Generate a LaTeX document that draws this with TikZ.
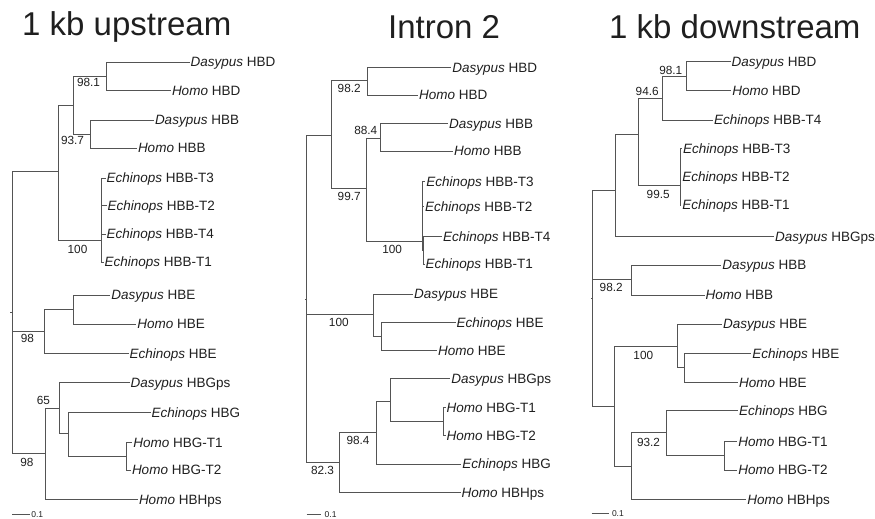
\documentclass[tikz,border=0pt]{standalone}
\usepackage{fontspec}
\setmainfont{Liberation Sans}
\definecolor{linegray}{gray}{0.33}
\definecolor{txt}{gray}{0.12}
\tikzset{
  br/.style={draw=linegray, line width=0.85pt},
  leaf/.style={anchor=west, inner xsep=1pt, inner ysep=0pt, outer sep=0pt,
    text height=9.6pt, text depth=0pt, font=\fontsize{13.5}{16}\selectfont, text=txt},
  boot/.style={inner sep=0pt, text height=8.4pt, text depth=0pt,
    font=\fontsize{11.8}{13}\selectfont, text=txt},
  ttl/.style={anchor=base west, inner sep=0pt, font=\fontsize{33}{36}\selectfont, text=txt},
  sbar/.style={anchor=west, inner sep=0pt, text height=6pt, text depth=0pt,
    font=\fontsize{8.5}{10}\selectfont, text=txt},
}
\newcommand{\tleaf}[5]{\node[leaf] (#1) at (#2,#3) {\textit{#4} #5};}
\newcommand{\kids}[2]{\foreach \c in {#2} {\draw[br] (#1) |- (\c);}}
\begin{document}
\begin{tikzpicture}[x=1pt,y=-1pt]
\useasboundingbox (0,0) rectangle (875,519);

% titles
\node[ttl] (title1) at (22,36) {1 kb upstream};
\node[ttl] (title2) at (388,39) {Intron 2};
\node[ttl] (title3) at (609,39) {1 kb downstream};

% ---------------- tree 1 ----------------
\tleaf{a1}{189.7}{62}{Dasypus}{HBD}
\tleaf{a2}{171}{90.7}{Homo}{HBD}
\tleaf{a3}{154}{120}{Dasypus}{HBB}
\tleaf{a4}{137}{148}{Homo}{HBB}
\tleaf{a5}{105.5}{178}{Echinops}{HBB-T3}
\tleaf{a6}{106.5}{205.7}{Echinops}{HBB-T2}
\tleaf{a7}{105.5}{234}{Echinops}{HBB-T4}
\tleaf{a8}{103.5}{262}{Echinops}{HBB-T1}
\tleaf{a9}{110.3}{295}{Dasypus}{HBE}
\tleaf{a10}{136.3}{324}{Homo}{HBE}
\tleaf{a11}{128.7}{353.3}{Echinops}{HBE}
\tleaf{a12}{129.7}{382.3}{Dasypus}{HBGps}
\tleaf{a13}{150.7}{412.3}{Echinops}{HBG}
\tleaf{a14}{132.3}{442.3}{Homo}{HBG-T1}
\tleaf{a15}{131}{470}{Homo}{HBG-T2}
\tleaf{a16}{138}{499.3}{Homo}{HBHps}

\coordinate (R1) at (12,312.5);
\coordinate (R1t) at (10.3,312.5);
\coordinate (A1) at (58,171.7);
\coordinate (B1) at (73,105.4);
\coordinate (D1) at (106,76.7);
\coordinate (H1) at (90.7,134);
\coordinate (K1) at (101,240.7);
\coordinate (K1b) at (101.8,192);
\coordinate (E1) at (44.3,331);
\coordinate (F1) at (73.3,309.3);
\coordinate (G1) at (45.7,453.3);
\coordinate (J1) at (59,408);
\coordinate (L1) at (68.3,433.3);
\coordinate (M1) at (126.7,456);

\kids{R1}{A1,E1,G1}
\kids{A1}{B1,K1}
\kids{B1}{D1,H1}
\kids{D1}{a1,a2}
\kids{H1}{a3,a4}
\kids{K1}{K1b,a7,a8}
\kids{K1b}{a5,a6}
\kids{E1}{F1,a11}
\kids{F1}{a9,a10}
\kids{G1}{J1,a16}
\kids{J1}{a12,L1}
\kids{L1}{a13,M1}
\kids{M1}{a14,a15}
\draw[br] (R1t) -- (R1);

\node[boot] (s11) at (88.5,82) {98.1};
\node[boot] (s12) at (72.5,140) {93.7};
\node[boot] (s13) at (77.5,249) {100};
\node[boot] (s14) at (27.5,338) {98};
\node[boot] (s15) at (43.5,400.5) {65};
\node[boot] (s16) at (27,462.3) {98};

\coordinate (sb1a) at (12.3,514);
\coordinate (sb1b) at (30,514);
\draw[br] (sb1a) -- (sb1b);
\node[sbar] (sb1) at (31.2,514) {0.1};

% ---------------- tree 2 ----------------
\tleaf{b1}{451.3}{67.3}{Dasypus}{HBD}
\tleaf{b2}{418}{95}{Homo}{HBD}
\tleaf{b3}{448}{123.3}{Dasypus}{HBB}
\tleaf{b4}{453}{151}{Homo}{HBB}
\tleaf{b5}{425.3}{181.7}{Echinops}{HBB-T3}
\tleaf{b6}{424}{206.7}{Echinops}{HBB-T2}
\tleaf{b7}{442}{236.7}{Echinops}{HBB-T4}
\tleaf{b8}{424.7}{264}{Echinops}{HBB-T1}
\tleaf{b9}{413}{294}{Dasypus}{HBE}
\tleaf{b10}{455.7}{322.3}{Echinops}{HBE}
\tleaf{b11}{437}{350.7}{Homo}{HBE}
\tleaf{b12}{450.3}{378.3}{Dasypus}{HBGps}
\tleaf{b13}{445.7}{407.3}{Homo}{HBG-T1}
\tleaf{b14}{445.7}{435.7}{Homo}{HBG-T2}
\tleaf{b15}{461.3}{464}{Echinops}{HBG}
\tleaf{b16}{460.7}{492.7}{Homo}{HBHps}

\coordinate (R2) at (306.7,299);
\coordinate (R2t) at (305,299);
\coordinate (A2) at (331.7,135);
\coordinate (D2) at (367.3,80);
\coordinate (B2) at (366,188.3);
\coordinate (H2) at (380.7,138.3);
\coordinate (K2) at (422.3,241);
\coordinate (K2b) at (423,250);
\coordinate (E2) at (373.3,314.3);
\coordinate (F2) at (381.7,336.7);
\coordinate (G2) at (339.3,462.7);
\coordinate (I2) at (376,432.7);
\coordinate (J2) at (390.7,401.7);
\coordinate (M2) at (443.3,421.7);

\kids{R2}{A2,E2,G2}
\kids{A2}{D2,B2}
\kids{D2}{b1,b2}
\kids{B2}{H2,K2}
\kids{H2}{b3,b4}
\kids{K2}{b5,b6,K2b}
\kids{K2b}{b7,b8}
\kids{E2}{b9,F2}
\kids{F2}{b10,b11}
\kids{G2}{I2,b16}
\kids{I2}{J2,b15}
\kids{J2}{b12,M2}
\kids{M2}{b13,b14}
\draw[br] (R2t) -- (R2);

\node[boot] (s21) at (349.2,88.3) {98.2};
\node[boot] (s22) at (365.8,130.7) {88.4};
\node[boot] (s23) at (349.2,196.7) {99.7};
\node[boot] (s24) at (392.2,249) {100};
\node[boot] (s25) at (338.8,322.3) {100};
\node[boot] (s26) at (358,440.7) {98.4};
\node[boot] (s27) at (322.5,470) {82.3};

\coordinate (sb2a) at (306.7,514);
\coordinate (sb2b) at (321,514);
\draw[br] (sb2a) -- (sb2b);
\node[sbar] (sb2) at (324.5,514) {0.1};

% ---------------- tree 3 ----------------
\tleaf{c1}{730.7}{61.7}{Dasypus}{HBD}
\tleaf{c2}{731.3}{90.7}{Homo}{HBD}
\tleaf{c3}{713}{120}{Echinops}{HBB-T4}
\tleaf{c4}{682}{148.3}{Echinops}{HBB-T3}
\tleaf{c5}{681.3}{176.7}{Echinops}{HBB-T2}
\tleaf{c6}{681.3}{205}{Echinops}{HBB-T1}
\tleaf{c7}{774}{236.7}{Dasypus}{HBGps}
\tleaf{c8}{721.3}{265}{Dasypus}{HBB}
\tleaf{c9}{704.7}{295}{Homo}{HBB}
\tleaf{c10}{722}{324}{Dasypus}{HBE}
\tleaf{c11}{751.3}{353.3}{Echinops}{HBE}
\tleaf{c12}{738}{382.3}{Homo}{HBE}
\tleaf{c13}{738}{410.7}{Echinops}{HBG}
\tleaf{c14}{737.3}{441.7}{Homo}{HBG-T1}
\tleaf{c15}{737.3}{470}{Homo}{HBG-T2}
\tleaf{c16}{746.3}{499.3}{Homo}{HBHps}

\coordinate (R3) at (592.7,298);
\coordinate (R3t) at (591,298);
\coordinate (A3) at (615,190);
\coordinate (C3) at (638.3,134.3);
\coordinate (D3) at (662.7,98.3);
\coordinate (F3) at (686,76);
\coordinate (K3) at (680,185.7);
\coordinate (B3) at (631.7,279.3);
\coordinate (E3) at (614.3,406);
\coordinate (G3) at (677.3,346);
\coordinate (J3) at (684.3,367.7);
\coordinate (I3) at (631,466.7);
\coordinate (L3) at (666,432.7);
\coordinate (M3) at (724.3,455.7);

\kids{R3}{A3,B3,E3}
\kids{A3}{C3,c7}
\kids{C3}{D3,K3}
\kids{D3}{F3,c3}
\kids{F3}{c1,c2}
\kids{K3}{c4,c5,c6}
\kids{B3}{c8,c9}
\kids{E3}{G3,I3}
\kids{G3}{c10,J3}
\kids{J3}{c11,c12}
\kids{I3}{L3,c16}
\kids{L3}{c13,M3}
\kids{M3}{c14,c15}
\draw[br] (R3t) -- (R3);

\node[boot] (s31) at (670.8,70) {98.1};
\node[boot] (s32) at (647.2,91.7) {94.6};
\node[boot] (s33) at (658.2,194.3) {99.5};
\node[boot] (s34) at (611.2,287.7) {98.2};
\node[boot] (s35) at (643.3,355) {100};
\node[boot] (s36) at (648.5,442.3) {93.2};

\coordinate (sb3a) at (591.7,513.3);
\coordinate (sb3b) at (609.3,513.3);
\draw[br] (sb3a) -- (sb3b);
\node[sbar] (sb3) at (611.8,513.3) {0.1};
\end{tikzpicture}
\end{document}
